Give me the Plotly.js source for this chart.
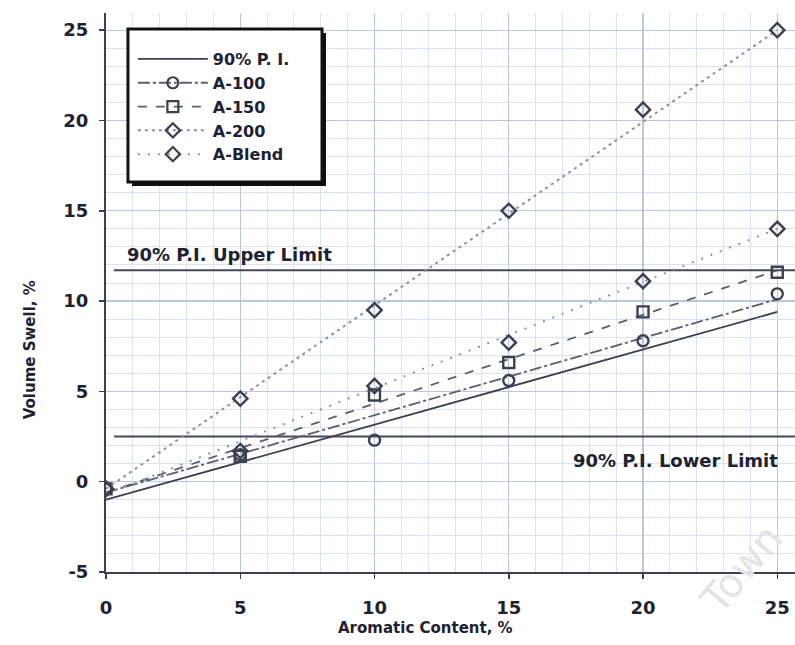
<!DOCTYPE html>
<html>
<head>
<meta charset="utf-8">
<script src="https://cdn.plot.ly/plotly-3.0.1.min.js"></script>
<style>html,body{margin:0;padding:0;background:#fff;}#chart{width:795px;height:645px;}</style>
</head>
<body>
<div id="chart"></div>
<script>
// ---- data ----
const xVals = [0, 5, 10, 15, 20, 25];
const a100 = [-0.4, 1.5, 2.3, 5.6, 7.8, 10.4];
const a150 = [-0.4, 1.4, 4.8, 6.6, 9.4, 11.6];
const a200 = [-0.4, 4.6, 9.5, 15.0, 20.6, 25.0];
const aBlend = [-0.4, 1.7, 5.3, 7.7, 11.1, 14.0];

// regression lines (end values)
const fitX = [0, 25];
const piFit = [-1.0, 9.4];
const a100Fit = [-0.6, 10.1];
const a150Fit = [-0.6, 11.7];
const a200Fit = [-0.4, 25.0];
const blendFit = [-0.7, 14.0];

// prediction interval limits
const limitX = [0.3, 25.7];
const upperLimit = [11.7, 11.7];
const lowerLimit = [2.5, 2.5];

const seriesNames = ['90% P. I.', 'A-100', 'A-150', 'A-200', 'A-Blend'];
const xTicks = [0, 5, 10, 15, 20, 25];
const yTicks = [-5, 0, 5, 10, 15, 20, 25];

const dark = '#3b4050';
const mid = '#5a5f70';
const light = '#8c92a2';
const txt = '#1e2230';
const fontFam = 'DejaVu Sans, Liberation Sans, sans-serif';

const styles = [
  {color: dark, dash: 'solid', width: 1.8, symbol: null},
  {color: mid, dash: '12px,3px,3px,3px', width: 1.8, symbol: 'circle-open'},
  {color: mid, dash: '9px,9px', width: 1.8, symbol: 'square-open'},
  {color: light, dash: '3px,4px', width: 2, symbol: 'diamond-open'},
  {color: light, dash: '2px,8px', width: 2, symbol: 'diamond-open'}
];
const fits = [piFit, a100Fit, a150Fit, a200Fit, blendFit];
const pts = [null, a100, a150, a200, aBlend];

const traces = [];
traces.push({x: limitX, y: upperLimit, mode: 'lines', line: {color: '#454a58', width: 2}, showlegend: false, hoverinfo: 'skip'});
traces.push({x: limitX, y: lowerLimit, mode: 'lines', line: {color: '#454a58', width: 2}, showlegend: false, hoverinfo: 'skip'});

for (let i = 0; i < seriesNames.length; i++) {
  const s = styles[i];
  traces.push({x: fitX, y: fits[i], mode: 'lines', line: {color: s.color, dash: s.dash, width: s.width},
    showlegend: false, legendgroup: 'g' + i, hoverinfo: 'skip'});
  if (pts[i]) {
    traces.push({x: xVals, y: pts[i], mode: 'markers',
      marker: {symbol: s.symbol, size: 11, color: dark, line: {width: 2.4, color: dark}},
      showlegend: false, legendgroup: 'g' + i});
  }
  const leg = {x: [null], y: [null], name: seriesNames[i], legendgroup: 'g' + i,
    mode: s.symbol ? 'lines+markers' : 'lines',
    line: {color: s.color, dash: s.dash, width: s.width}};
  if (s.symbol) leg.marker = {symbol: s.symbol, size: 11, color: dark, line: {width: 2.2, color: dark}};
  traces.push(leg);
}

const axisCommon = {
  showline: true, linecolor: dark, linewidth: 2,
  ticks: 'outside', ticklen: 5, tickcolor: dark, tickwidth: 1.5,
  showgrid: true, gridcolor: '#b8c6df', gridwidth: 1.3,
  zeroline: false,
  tickfont: {family: fontFam, size: 18, color: txt, weight: 'bold'},
  minor: {dtick: 1, showgrid: true, gridcolor: '#dce3f0', gridwidth: 1, ticks: ''}
};

// legend frame (paper coords)
const lgX0 = 0.0319, lgX1 = 0.3135, lgY0 = 0.6977, lgY1 = 0.9714;
const sdx = 4 / 689, sdy = 4 / 559;

const layout = {
  width: 795, height: 645,
  margin: {l: 106, r: 0, t: 13, b: 73},
  paper_bgcolor: '#fff', plot_bgcolor: '#fff',
  showlegend: true,
  xaxis: Object.assign({}, axisCommon, {range: [0, 25.66], tickvals: xTicks, ticktext: xTicks.map(String), ticklabelstandoff: 13}),
  yaxis: Object.assign({}, axisCommon, {range: [-5, 25.95], tickvals: yTicks, ticktext: yTicks.map(String), ticklabelstandoff: 7}),
  shapes: [
    {type: 'rect', xref: 'paper', yref: 'paper', x0: lgX0 + sdx, x1: lgX1 + sdx, y0: lgY0 - sdy, y1: lgY1 - sdy,
      fillcolor: '#111', line: {width: 0}, layer: 'above'},
    {type: 'rect', xref: 'paper', yref: 'paper', x0: lgX0, x1: lgX1, y0: lgY0, y1: lgY1,
      fillcolor: '#fff', line: {width: 3, color: '#111'}, layer: 'above'}
  ],
  legend: {
    x: 0.039, y: 0.948, xanchor: 'left', yanchor: 'top',
    bgcolor: 'rgba(0,0,0,0)', borderwidth: 0,
    font: {family: fontFam, size: 16, color: txt, weight: 'bold'},
    itemwidth: 70, tracegroupgap: 0
  },
  annotations: [
    {text: 'Volume Swell, %', xref: 'paper', yref: 'paper', x: -0.110, y: 0.397, xanchor: 'center', yanchor: 'middle',
      textangle: -90, showarrow: false, font: {family: fontFam, size: 15, color: txt, weight: 'bold'}},
    {text: 'Aromatic Content, %', xref: 'paper', yref: 'paper', x: 0.463, y: -0.100, xanchor: 'center', yanchor: 'middle',
      showarrow: false, font: {family: fontFam, size: 15, color: txt, weight: 'bold'}},
    {text: '90% P.I. Upper Limit', xref: 'x', yref: 'y', x: 0.7, y: 11.7, xanchor: 'left', yanchor: 'bottom', yshift: 3, showarrow: false,
      font: {family: fontFam, size: 18, color: txt, weight: 'bold'}},
    {text: '90% P.I. Lower Limit', xref: 'x', yref: 'y', x: 25.1, y: 2.5, xanchor: 'right', yanchor: 'top', yshift: -11, showarrow: false,
      font: {family: fontFam, size: 18, color: txt, weight: 'bold'}},
    {text: 'Town', xref: 'paper', yref: 'paper', x: 0.922, y: 0.005, xanchor: 'center', yanchor: 'middle', textangle: -50, showarrow: false,
      font: {family: fontFam, size: 40, color: '#e4e4e4'}}
  ]
};

Plotly.newPlot('chart', traces, layout, {displayModeBar: false, staticPlot: true});
</script>
</body>
</html>
